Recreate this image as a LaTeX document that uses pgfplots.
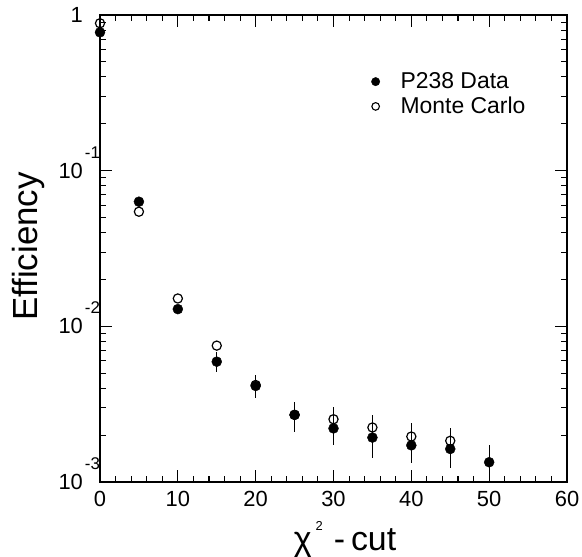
\documentclass[border=0pt]{standalone}
\usepackage{fontspec}
\setmainfont{Liberation Sans}
\usepackage{pgfplots}
\pgfplotsset{compat=1.18}
\pgfplotsset{myleg/.style={legend image code/.code={\path[draw=none,fill=none] (0bp,-5bp) rectangle (33bp,5bp); \draw[mark repeat=2,mark phase=2,##1] plot coordinates {(0bp,0bp) (10bp,0bp) (33bp,0bp)};}}}
\newcommand{\expo}[1]{\hspace{2bp}\raisebox{20bp}{\fontsize{17}{17}\selectfont #1}}
\begin{document}
\begin{tikzpicture}
\begin{axis}[
  scale only axis, width=467bp, height=467bp,
  xmin=0, xmax=60, ymode=log, ymin=1e-3, ymax=1,
  xtick={0,10,...,60}, minor x tick num=4,
  ytick={1e-3,1e-2,1e-1,1},
  yticklabels={10\expo{-3},10\expo{-2},10\expo{-1},1\phantom{\expo{-1}}},
  tick align=inside, major tick length=12bp, minor tick length=6bp,
  axis line style={line width=1.8bp},
  every tick/.style={black, line width=1.1bp},
  ticklabel style={font=\fontsize{22}{22}\selectfont},
  /pgf/number format/assume math mode=true,
  xticklabel style={yshift=-6bp},
  yticklabel style={anchor=base east, yshift=-7.5bp, xshift=3.5bp},
  every axis x label/.style={at={([shift={(11.5bp,-68bp)}]rel axis cs:0.5,0)}, anchor=base, font=\fontsize{34}{34}\selectfont},
  every axis y label/.style={at={([shift={(-62bp,2bp)}]rel axis cs:0,0.5)}, rotate=90, anchor=base, font=\fontsize{35}{35}\selectfont},
  xlabel={χ\hspace{4bp}\raisebox{20bp}{\fontsize{13}{13}\selectfont 2}\hspace{11bp}-\hspace{6bp}cut},
  ylabel={Efficiency},
  clip=false,
  legend style={draw=none, fill=none, at={(rel axis cs:0.562,0.885)}, anchor=north west,
    font=\fontsize{23}{23}\selectfont, row sep=3bp},
  legend cell align=left,
]
\addplot[forget plot, only marks, mark=o, mark size=4.6bp,
  mark options={fill=white, line width=1.2bp},
  error bars/.cd, y dir=both, y explicit, error mark=none,
  error bar style={line width=1.1bp}]
coordinates {
(0,0.885) (5,0.0545) (10,0.0151) (15,0.00752) (20,0.0042) (25,0.0027)
(30,0.00253) += (0,0.00052) -= (0,0.00043)
(35,0.00224) += (0,0.00046) -= (0,0.00038)
(40,0.00196) += (0,0.00045) -= (0,0.00035)
(45,0.00184) += (0,0.00038) -= (0,0.00035)
};
\addplot[forget plot, only marks, mark=*, mark size=5bp,
  error bars/.cd, y dir=both, y explicit, error mark=none,
  error bar style={line width=1.1bp}]
coordinates {
(0,0.774) (5,0.0632) (10,0.0129)
(15,0.00593) += (0,0.00095) -= (0,0.00081)
(20,0.00414) += (0,0.00074) -= (0,0.00069)
(25,0.0027) += (0,0.00058) -= (0,0.00059)
(30,0.00221) += (0,0.0005) -= (0,0.00048)
(35,0.00193) += (0,0.00058) -= (0,0.00051)
(40,0.00172) += (0,0.00044) -= (0,0.0004)
(45,0.00163) += (0,0.00038) -= (0,0.0004)
(50,0.00134) += (0,0.00039) -= (0,0.00023)
};
\addlegendimage{only marks, mark=*, mark size=4.2bp, myleg}
\addlegendentry{P238 Data}
\addlegendimage{only marks, mark=o, mark size=3.8bp, mark options={line width=1.1bp}, myleg}
\addlegendentry{Monte Carlo}
\coordinate (ll) at (rel axis cs:0,0);
\coordinate (ur) at (rel axis cs:1,1);
\end{axis}
\pgfresetboundingbox
\path ([shift={(-100bp,-75bp)}]ll) rectangle ([shift={(15bp,15bp)}]ur);
\end{tikzpicture}
\end{document}
